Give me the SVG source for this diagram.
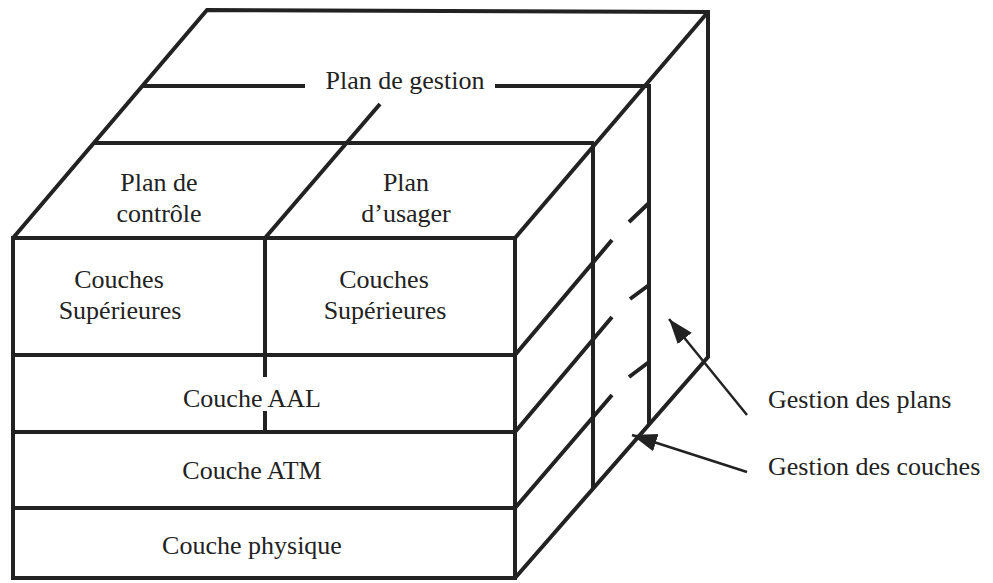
<svg xmlns="http://www.w3.org/2000/svg" width="993" height="583" viewBox="0 0 993 583">
<style>
.ln{fill:none;stroke:#222;stroke-width:4;stroke-linejoin:miter;stroke-linecap:butt}
.ar{fill:none;stroke:#222;stroke-width:2.5}
text{font-family:"Liberation Serif","Times New Roman",serif;font-size:26px;fill:#222}
.c{text-anchor:middle}
</style>
<defs>
<marker id="head" markerUnits="userSpaceOnUse" markerWidth="28" markerHeight="20" refX="25" refY="9" orient="auto">
<path d="M0,0 L25,9 L0,18 Z" fill="#222"/>
</marker>
</defs>
<rect width="993" height="583" fill="#fff"/>
<g id="cube-outline">
<path class="ln" d="M13,238 H515 V578 H13 Z"/>
<path class="ln" d="M13,238 L207,10 L708,12 V357 L515,578"/>
<path class="ln" d="M515,238 L708,12"/>
</g>
<g id="plan-gestion">
<path class="ln" d="M142,86 H305 M495,86 H649 V425"/>
<path class="ln" d="M93,143 H594 M593,143 V489"/>
<text class="c" x="405" y="89">Plan de gestion</text>
</g>
<g id="plan-controle">
<text class="c" x="159" y="191">Plan de</text>
<text class="c" x="159" y="222">contrôle</text>
</g>
<g id="plan-usager">
<path class="ln" d="M265,238 L380,104"/>
<text class="c" x="406" y="191">Plan</text>
<text class="c" x="406" y="222">d’usager</text>
</g>
<g id="couches-sup-controle">
<path class="ln" d="M265,238 V377 M265,411 V432"/>
<text class="c" x="119" y="288">Couches</text>
<text class="c" x="120" y="319">Supérieures</text>
</g>
<g id="couches-sup-usager">
<text class="c" x="384" y="288">Couches</text>
<text class="c" x="385" y="319">Supérieures</text>
</g>
<g id="couche-aal">
<path class="ln" d="M13,355 H515 M515,355 L612,240 M629,222 L649,203"/>
<text class="c" x="252" y="407">Couche AAL</text>
</g>
<g id="couche-atm">
<path class="ln" d="M13,432 H515 M515,432 L612,317 M630,299 L649,285"/>
<text class="c" x="252" y="479">Couche ATM</text>
</g>
<g id="couche-physique">
<path class="ln" d="M13,508 H515 M515,508 L612,395 M629,377 L649,362"/>
<text class="c" x="252" y="554">Couche physique</text>
</g>
<g id="gestion-plans">
<text x="768" y="408">Gestion des plans</text>
</g>
<g id="gestion-couches">
<text x="768" y="475">Gestion des couches</text>
</g>
<g id="connectors">
<line class="ar" x1="747" y1="415" x2="669" y2="319" marker-end="url(#head)"/>
<line class="ar" x1="747" y1="472" x2="632" y2="435" marker-end="url(#head)"/>
</g>
</svg>
